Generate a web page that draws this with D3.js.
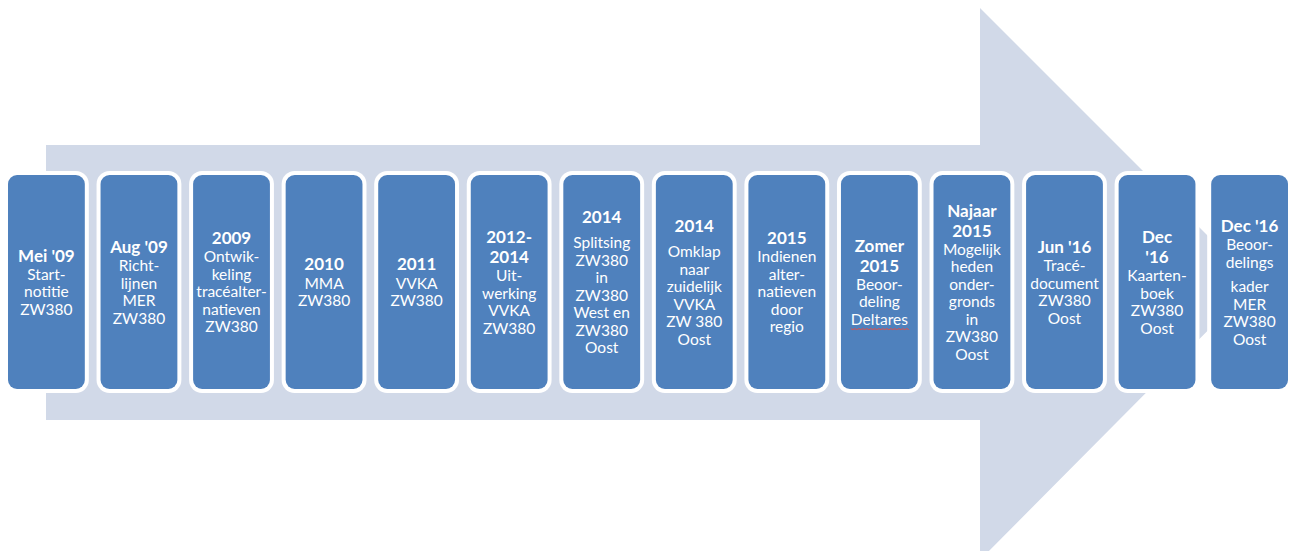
<!DOCTYPE html>
<html>
<head>
<meta charset="utf-8">
<script src="https://cdn.jsdelivr.net/npm/d3@7"></script>
<style>
  body { margin: 0; background: #fff; }
  svg { display: block; }
</style>
</head>
<body>
<div id="chart"></div>
<script>
// timeline steps: bold heading lines and the lines below them ("" = small paragraph gap)
const titles = [
    ["Mei '09"], ["Aug '09"], ["2009"], ["2010"], ["2011"], ["2012-", "2014"], ["2014"],
    ["2014"], ["2015"], ["Zomer", "2015"], ["Najaar", "2015"], ["Jun '16"], ["Dec", "'16"], ["Dec '16"]
];
const details = [
    ["Start-", "notitie", "ZW380"],
    ["Richt-", "lijnen", "MER", "ZW380"],
    ["Ontwik-", "keling", "tracéalter-", "natieven", "ZW380"],
    ["MMA", "ZW380"],
    ["VVKA", "ZW380"],
    ["Uit-", "werking", "VVKA", "ZW380"],
    ["", "Splitsing", "ZW380", "in", "ZW380", "West en", "ZW380", "Oost"],
    ["", "Omklap", "naar", "zuidelijk", "VVKA", "ZW 380", "Oost"],
    ["Indienen", "alter-", "natieven", "door", "regio"],
    ["Beoor-", "deling", "Deltares"],
    ["Mogelijk", "heden", "onder-", "gronds", "in", "ZW380", "Oost"],
    ["Tracé-", "document", "ZW380", "Oost"],
    ["Kaarten-", "boek", "ZW380", "Oost"],
    ["Beoor-", "delings", "", "kader", "MER", "ZW380", "Oost"]
];
const flagged = ["Deltares"]; // word with the spell-check squiggle

const width = 1290, height = 551;
const boxTop = 175, boxHeight = 214;
const midY = boxTop + boxHeight / 2;

const svg = d3.select("#chart").append("svg")
    .attr("width", width)
    .attr("height", height);

// background arrow
const arrow = d3.path();
arrow.moveTo(46, 145);
arrow.lineTo(980, 145);
arrow.lineTo(980, 8);
arrow.lineTo(1255, midY + 1);
arrow.lineTo(980, 560);
arrow.lineTo(980, 420);
arrow.lineTo(46, 420);
arrow.closePath();
svg.append("path")
    .attr("d", arrow.toString())
    .attr("fill", "#d1d9e8");

const x = d3.scaleBand()
    .domain(d3.range(titles.length))
    .range([8, 1288])
    .paddingInner(0.17)
    .paddingOuter(0);

const steps = svg.selectAll("g.step")
    .data(titles.map((t, i) => ({title: t, lines: details[i]})))
    .enter().append("g")
    .attr("class", "step")
    .attr("transform", (d, i) => "translate(" + x(i) + "," + boxTop + ")");

steps.append("rect")
    .attr("x", -4).attr("y", -4)
    .attr("width", x.bandwidth() + 8)
    .attr("height", boxHeight + 8)
    .attr("rx", 13)
    .attr("fill", "#fff");

steps.append("rect")
    .attr("width", x.bandwidth())
    .attr("height", boxHeight)
    .attr("rx", 9)
    .attr("fill", "#4f81bd");

const titleH = 20, lineH = 17.5, gapH = 7;

steps.each(function(d) {
    const g = d3.select(this);
    const rows = [];
    d.title.forEach(t => rows.push({text: t, bold: true, h: titleH}));
    d.lines.forEach(t => rows.push({text: t, bold: false, h: t === "" ? gapH : lineH}));
    const total = d3.sum(rows, r => r.h);
    let y = boxHeight / 2 - total / 2;
    rows.forEach(r => {
        r.y = y + r.h / 2;
        y += r.h;
    });

    const txt = g.selectAll("text")
        .data(rows.filter(r => r.text !== ""))
        .enter().append("text")
        .attr("x", x.bandwidth() / 2)
        .attr("y", r => r.y)
        .attr("dy", "0.35em")
        .attr("text-anchor", "middle")
        .attr("fill", "#fff")
        .attr("font-family", "Lato, 'Open Sans', sans-serif")
        .attr("font-weight", r => r.bold ? 700 : 400)
        .attr("font-size", r => r.bold ? 17 : 15.5)
        .text(r => r.text);

    // red wavy underline
    txt.filter(r => flagged.includes(r.text)).each(function(r) {
        const w = this.getComputedTextLength();
        const x0 = x.bandwidth() / 2 - w / 2;
        const yy = r.y + 9;
        const pts = d3.range(0, Math.ceil(w / 2) + 1).map(k => [x0 + k * 2, yy + (k % 2 ? 1.2 : 0)]);
        g.append("path")
            .attr("d", d3.line()(pts))
            .attr("fill", "none")
            .attr("stroke", "#e0504a")
            .attr("stroke-width", 1);
    });
});
</script>
</body>
</html>
